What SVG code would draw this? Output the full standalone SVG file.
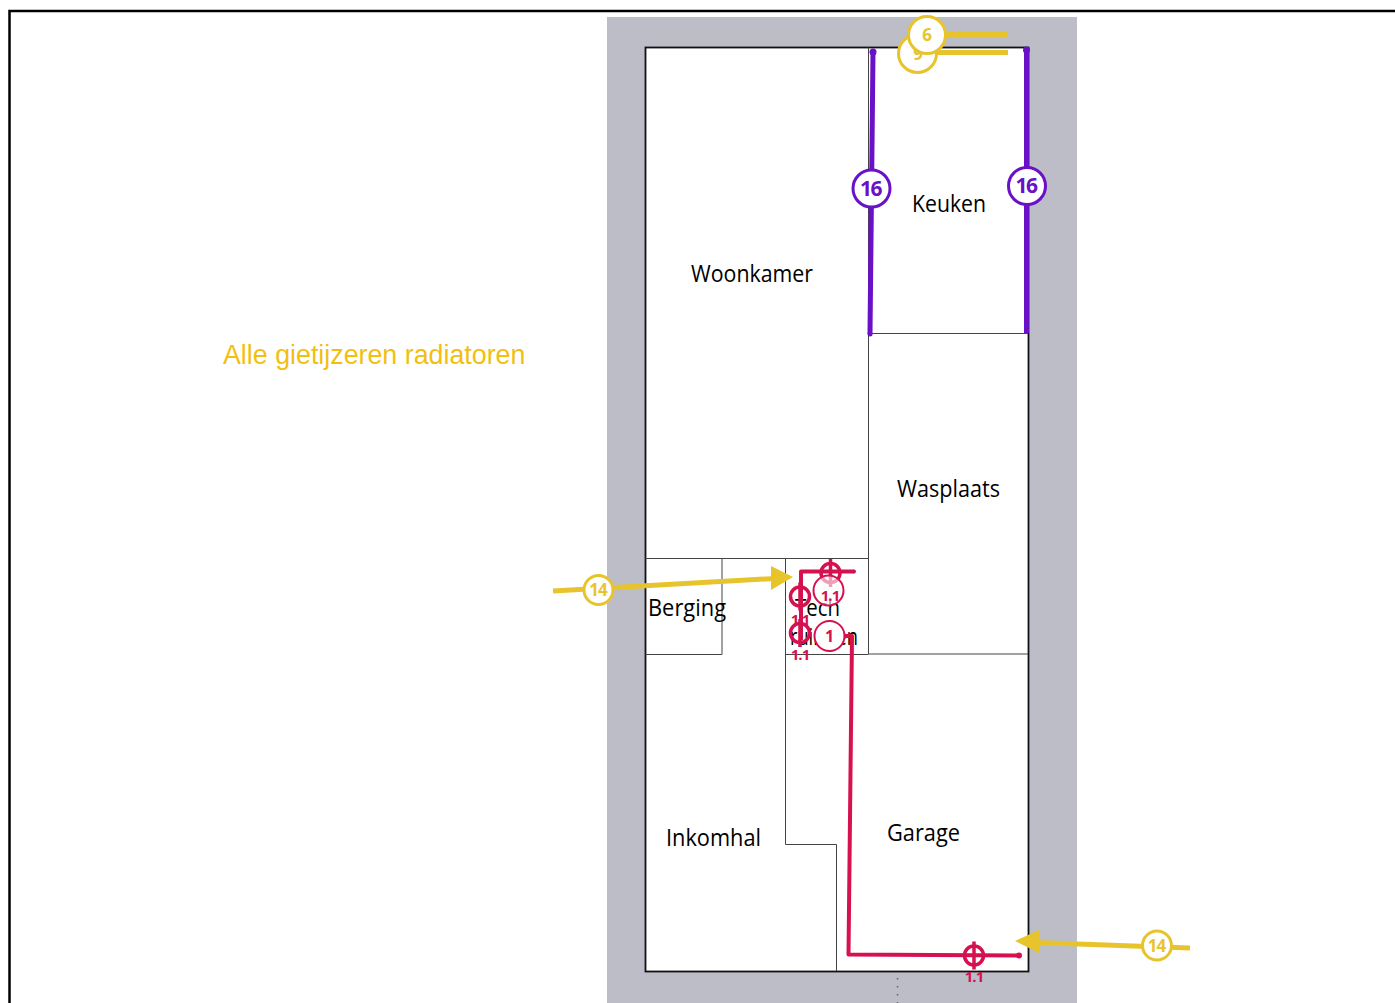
<svg xmlns="http://www.w3.org/2000/svg" width="1395" height="1003" viewBox="0 0 1395 1003">
<style>
.room{font:23px "Open Sans","Noto Sans",sans-serif;fill:#000}
.w{fill:none;stroke:#444;stroke-width:1}
.y{fill:none;stroke:#e8c42c;stroke-width:5}
.p{fill:none;stroke:#d5114f;stroke-width:4;stroke-linejoin:round}
.v{fill:none;stroke:#6a11c8;stroke-width:5}
.cy{fill:#fff;stroke:#e8c42c;stroke-width:3}
.cyt{font:bold 17px "Open Sans","Noto Sans",sans-serif;fill:#e8c42c;text-anchor:middle;letter-spacing:-1px}
.cp{fill:#fff;stroke:#d5114f;stroke-width:2}
.cpt{font:bold 16px "Open Sans","Noto Sans",sans-serif;fill:#d5114f;text-anchor:middle}
.t11{font:bold 15px "Open Sans","Noto Sans",sans-serif;fill:#d5114f;text-anchor:middle;letter-spacing:-1px}
.cv{fill:#fff;stroke:#6a11c8;stroke-width:3}
.cvt{font:bold 21px "Open Sans","Noto Sans",sans-serif;fill:#6a11c8;text-anchor:middle;letter-spacing:-1.500px}
</style>
<defs>
<g id="tgt"><circle r="9.500" fill="none" stroke="#d5114f" stroke-width="3.500"/><path d="M0-14V14" stroke="#d5114f" stroke-width="3.500"/></g>
</defs>
<rect width="1395" height="1003" fill="#fff"/>
<path d="M9.500 1003V11H1395" fill="none" stroke="#000" stroke-width="2.500"/>
<rect x="607" y="17" width="470" height="986" fill="#bdbdc7"/>
<g id="plan">
<rect x="645.500" y="47.500" width="383" height="924" fill="#fff" stroke="#111" stroke-width="1.800"/>
<path class="w" d="M868.500 47.500V654M868.500 333.500H1028M868.500 654H1028M645.500 558.500H868.500M645.500 654.500H722M722 558.500V654.500M785.500 558.500V844.500H836.500V971M785.500 654.500H868.500"/>
<path d="M897.500 978V1003" stroke="#666" stroke-width="1.500" stroke-dasharray="1.500 6.500" fill="none"/>
</g>
<g id="woonkamer"><text class="room" x="691" y="282" textLength="122" lengthAdjust="spacingAndGlyphs">Woonkamer</text></g>
<g id="keuken"><text class="room" x="912" y="212" textLength="74" lengthAdjust="spacingAndGlyphs">Keuken</text></g>
<g id="wasplaats"><text class="room" x="897" y="497" textLength="103" lengthAdjust="spacingAndGlyphs">Wasplaats</text></g>
<g id="berging"><text class="room" x="648" y="616" textLength="78" lengthAdjust="spacingAndGlyphs">Berging</text></g>
<g id="technisch"><text class="room" x="795" y="616" textLength="45" lengthAdjust="spacingAndGlyphs">Tech</text><text class="room" x="790" y="645" textLength="68" lengthAdjust="spacingAndGlyphs">ruimten</text></g>
<g id="inkomhal"><text class="room" x="666" y="846" textLength="95" lengthAdjust="spacingAndGlyphs">Inkomhal</text></g>
<g id="garage"><text class="room" x="887" y="841" textLength="73" lengthAdjust="spacingAndGlyphs">Garage</text></g>
<text id="note" x="223" y="364" font-family="Liberation Sans, sans-serif" font-size="26.800" fill="#f2bf11">Alle gietijzeren radiatoren</text>
<g id="connectors">
<path class="v" d="M873 52L870 334M1026.500 50V333"/>
<circle cx="873" cy="52" r="3.500" fill="#6a11c8"/><circle cx="1026.500" cy="50" r="3.500" fill="#6a11c8"/><circle cx="870" cy="334" r="2.500" fill="#6a11c8"/>
<path class="y" d="M924 52.500H1008M937 34.500H1008M553 591L775 578.500M1190 948L1035 942.500"/>
<path d="M793 577L771 566V590Z" fill="#e8c42c"/>
<path d="M1015 941L1039 930V953Z" fill="#e8c42c"/>
<path class="p" d="M854 571.500H801V640M842 636H852L848.500 954.500L1019 955.500"/>
<circle cx="1019" cy="955.500" r="3" fill="#d5114f"/>
<circle cx="854" cy="571.500" r="2" fill="#d5114f"/>
</g>
<g id="n9"><circle class="cy" cx="917.500" cy="53.500" r="19"/><text class="cyt" x="917.500" y="60">9</text></g>
<g id="n6"><circle class="cy" cx="927" cy="35" r="18.500"/><text class="cyt" x="926.500" y="41">6</text></g>
<g id="n16a"><circle class="cv" cx="871.500" cy="188.500" r="18.500"/><text class="cvt" x="870.500" y="196">16</text></g>
<g id="n16b"><circle class="cv" cx="1027" cy="186" r="18.500"/><text class="cvt" x="1026" y="193">16</text></g>
<g id="n14a"><circle class="cy" cx="598.500" cy="590" r="14.500"/><text class="cyt" x="598" y="596">14</text></g>
<g id="n14b"><circle class="cy" cx="1157" cy="945.500" r="14.500"/><text class="cyt" x="1156.500" y="951.500">14</text></g>
<g id="r1"><use href="#tgt" x="830.500" y="573"/><circle class="cp" cx="828.500" cy="590.500" r="15" fill-opacity="0.600"/><text class="t11" x="830" y="601">1.1</text></g>
<g id="r2"><use href="#tgt" x="800" y="596.500"/><text class="t11" x="800" y="625">1.1</text></g>
<g id="r3"><use href="#tgt" x="800" y="633"/><text class="t11" x="800" y="660">1.1</text></g>
<g id="n1"><circle class="cp" cx="829.500" cy="636" r="15"/><text class="cpt" x="829.500" y="641.500">1</text></g>
<g id="r4"><use href="#tgt" x="974" y="955.500"/><text class="t11" x="974" y="982">1.1</text></g>
</svg>
